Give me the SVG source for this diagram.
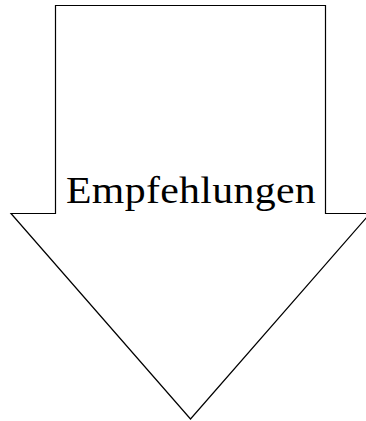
<svg xmlns="http://www.w3.org/2000/svg" width="366" height="421" viewBox="0 0 366 421">
<style>
.shape{fill:#ffffff;stroke:#000000;stroke-width:1.2;stroke-linejoin:miter}
.lbl{font-family:"Liberation Serif","Times New Roman",serif;font-size:38px;fill:#000000}
</style>
<rect width="366" height="421" fill="#ffffff"/>
<g id="arrow">
<polygon class="shape" points="55.5,5.5 325.5,5.5 325.5,213.5 370,213.5 190.5,419 11,213.5 55.5,213.5"/>
<text class="lbl" transform="translate(66,202.5) scale(1.1,1)" x="0" y="0" textLength="227" lengthAdjust="spacing">Empfehlungen</text>
</g>
<g id="connectors"></g>
</svg>
